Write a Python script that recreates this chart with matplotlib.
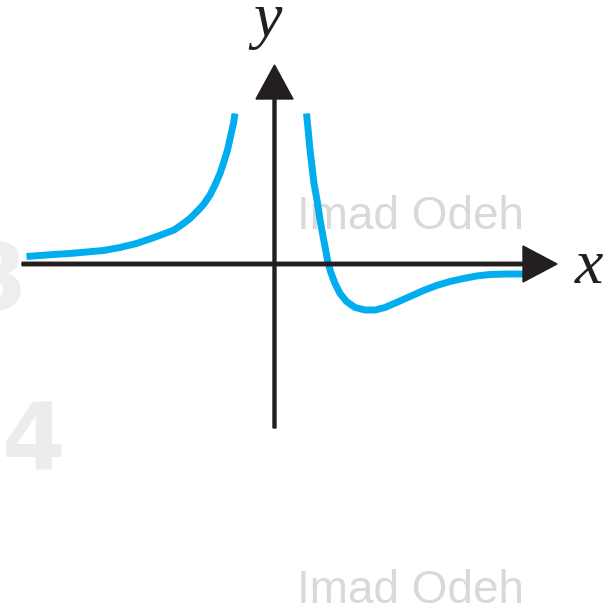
import matplotlib
matplotlib.use("Agg")
import matplotlib.pyplot as plt

# sketch of f: left branch rises to a vertical asymptote,
# right branch drops through the x-axis, dips, then levels off below it
left_x = [-4.96, -4.42, -4.09, -3.76, -3.42, -3.09, -2.76, -2.41, -2.22, -2.01, -1.82,
          -1.69, -1.55, -1.42, -1.29, -1.19, -1.09, -1.01, -0.94, -0.88, -0.82, -0.79]
left_y = [0.15, 0.19, 0.21, 0.24, 0.27, 0.33, 0.41, 0.53, 0.60, 0.68, 0.81,
          0.91, 1.05, 1.19, 1.38, 1.58, 1.81, 2.05, 2.28, 2.55, 2.81, 3.01]

right_x = [0.64, 0.68, 0.71, 0.75, 0.79, 0.85, 0.90, 0.96, 1.01, 1.06, 1.12, 1.21, 1.31, 1.44,
           1.61, 1.81, 2.01, 2.21, 2.44, 2.71, 2.98, 3.24, 3.51, 3.78, 4.04, 4.31, 4.64, 4.98]
right_y = [3.01, 2.61, 2.28, 1.95, 1.61, 1.28, 0.95, 0.61, 0.35, 0.08, -0.15, -0.39, -0.59, -0.75,
           -0.87, -0.92, -0.92, -0.87, -0.77, -0.65, -0.53, -0.43, -0.35, -0.29, -0.24, -0.21, -0.20, -0.20]

x_axis = (-5.05, 5.65)
y_axis = (-3.28, 3.98)

curve_color = "#00aeef"
ink = "#231f20"

fig = plt.figure(figsize=(6.15, 6.13), dpi=100)
ax = fig.add_axes([0, 0, 1, 1])
ax.set_xlim(-5.49, 6.81)
ax.set_ylim(-6.98, 5.28)
ax.axis("off")

# faint page numbers bleeding in from the margin
ax.text(-4.93, -0.92, "3", fontsize=66, fontweight="bold", color="#eeeeee",
        ha="right", va="baseline", zorder=0)
ax.text(-5.45, -4.12, "4", fontsize=66, fontweight="bold", color="#ececec",
        ha="left", va="baseline", zorder=0)

# watermark
for wy in (0.70, -6.78):
    ax.text(0.45, wy, "Imad Odeh", fontsize=33, color="#d9d9d9",
            family="Liberation Sans", ha="left", va="baseline", zorder=1)

# axes with arrowheads
ax.arrow(x_axis[0], 0, x_axis[1] - x_axis[0], 0, width=0.07, head_width=0.72,
         head_length=0.68, length_includes_head=True, color=ink, zorder=3)
ax.arrow(0, y_axis[0], 0, y_axis[1] - y_axis[0], width=0.06, head_width=0.74,
         head_length=0.68, length_includes_head=True, color=ink, zorder=3)

ax.text(-0.13, 4.56, "y", fontsize=46, style="italic", family="Liberation Serif",
        color=ink, ha="center", va="baseline")
ax.text(6.29, -0.38, "x", fontsize=46, style="italic", family="Liberation Serif",
        color=ink, ha="center", va="baseline")

# the curve
for xs, ys in ((left_x, left_y), (right_x, right_y)):
    ax.plot(xs, ys, color=curve_color, lw=5, solid_capstyle="butt",
            solid_joinstyle="round", zorder=2)

fig.savefig("out.png", dpi=100)
